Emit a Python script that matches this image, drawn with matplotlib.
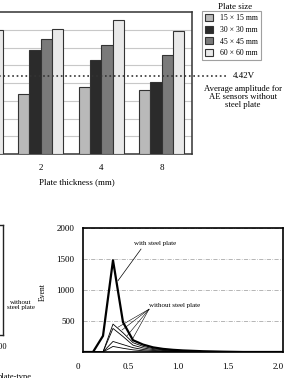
import numpy as np
import matplotlib
matplotlib.use("Agg")
import matplotlib.pyplot as plt
from matplotlib.transforms import ScaledTranslation

plt.rcParams['font.family'] = ['Liberation Serif', 'DejaVu Serif']

# top panel: amplitude vs plate thickness (first group is cut off on the left)
thickness = ["", "2", "4", "8"]
plate_sizes = ["15 × 15 mm", "30 × 30 mm", "45 × 45 mm", "60 × 60 mm"]
amp_15 = [3.0, 3.39, 3.77, 3.62]
amp_30 = [5.0, 5.84, 5.27, 4.08]
amp_45 = [6.0, 6.48, 6.16, 5.59]
amp_60 = [6.98, 7.04, 7.57, 6.95]
no_plate_avg = 4.42
bar_colors = ["#b9b9b9", "#2b2b2b", "#7a7a7a", "#e9e9e9"]

# bottom panel: event count vs AE amplitude
amp_v = [0, 0.1, 0.2, 0.3, 0.4, 0.5, 0.6, 0.7, 0.8, 0.9, 1.0, 1.2, 1.4, 1.6, 1.8, 2.0]
with_plate = [0, 0, 260, 1480, 480, 190, 120, 75, 50, 35, 25, 12, 5, 0, 0, 0]
without_1 = [0, 0, 0, 450, 310, 150, 90, 55, 35, 22, 15, 6, 2, 0, 0, 0]
without_2 = [0, 0, 0, 380, 250, 110, 65, 40, 25, 15, 10, 4, 0, 0, 0, 0]
without_3 = [0, 0, 0, 170, 120, 70, 40, 25, 15, 10, 6, 2, 0, 0, 0, 0]
without_4 = [0, 0, 0, 90, 60, 35, 20, 12, 8, 5, 3, 0, 0, 0, 0, 0]

W, H = 288, 378
fig = plt.figure(figsize=(W / 100, H / 100), dpi=100)


def box(l, t, r, b):
    # pixel box -> figure fraction rect
    return [l / W, 1 - b / H, (r - l) / W, (b - t) / H]


# ---------------- top bar chart ----------------
ax = fig.add_axes(box(-50, 12, 192, 154))
x = np.arange(len(thickness))
w = 0.1875
series = [amp_15, amp_30, amp_45, amp_60]
handles = []
for i, vals in enumerate(series):
    b = ax.bar(x + (i - 1.5) * w, vals, w, color=bar_colors[i],
               edgecolor="#333333", linewidth=0.8, zorder=3)
    handles.append(b)
ax.set_xlim(-0.5, 3.5)
ax.set_ylim(0, 8)
ax.set_yticks(np.arange(1, 8))
ax.yaxis.grid(True, color="#c8c8c8", linewidth=0.8, zorder=0)
ax.tick_params(axis="y", length=0, labelleft=False)
ax.set_xticks(x)
ax.set_xticklabels(thickness, fontsize=6.5)
ax.tick_params(axis="x", length=0, pad=7)
ax.set_xlabel("Plate thickness (mm)", fontsize=6.5)
ax.xaxis.set_label_coords((77 + 50) / 242, -0.17)
for s in ax.spines.values():
    s.set_color("#333333")
    s.set_linewidth(1.1)

ax.plot([0, 1.14], [no_plate_avg, no_plate_avg], transform=ax.get_yaxis_transform(),
        color="#333333", linestyle=":", linewidth=1.2, clip_on=False, zorder=4)
fig.text(233 / W, 1 - 76 / H, "4.42V", fontsize=6.5, va="center", ha="left")
fig.text(243 / W, 1 - 97 / H, "Average amplitude for\nAE sensors without\nsteel plate",
         fontsize=6.2, ha="center", va="center", linespacing=0.95)

fig.text(235 / W, 1 - 7 / H, "Plate size", fontsize=6.5, ha="center", va="center")
leg = ax.legend(handles, plate_sizes, loc="upper left",
                bbox_to_anchor=(202 / W, 1 - 11 / H), bbox_transform=fig.transFigure,
                fontsize=5.6, frameon=True, fancybox=False, handlelength=1.0,
                handleheight=1.0, labelspacing=0.45, borderpad=0.4, handletextpad=0.9,
                borderaxespad=0)
leg.get_frame().set_edgecolor("#888888")
leg.get_frame().set_linewidth(0.8)

# ---------------- cut-off bottom-left panel ----------------
axl = fig.add_axes(box(-100, 225, 3, 335))
axl.set_xticks([])
axl.set_yticks([])
for s in axl.spines.values():
    s.set_color("#222222")
    s.set_linewidth(1.0)
fig.text(21 / W, 1 - 305 / H, "without\nsteel plate", fontsize=5, ha="center",
         va="center", linespacing=1.0)
fig.text(7 / W, 1 - 347 / H, "200", fontsize=6, ha="right", va="center")
fig.text(-2 / W, 1 - 377 / H, "plate-type", fontsize=6, ha="left", va="center")

# ---------------- bottom-right event chart ----------------
ax2 = fig.add_axes(box(83, 228, 283, 352))
ax2.plot(amp_v, with_plate, color="black", linewidth=1.6, zorder=3)
for ys in [without_1, without_2, without_3, without_4]:
    ax2.plot(amp_v, ys, color="black", linewidth=0.6, zorder=3)
ax2.set_xlim(0, 2.0)
ax2.set_ylim(0, 2000)
ax2.set_yticks([500, 1000, 1500, 2000])
ax2.set_yticklabels(["500", "1000", "1500", "2000"], fontsize=6.5)
ax2.set_xticks([0, 0.5, 1.0, 1.5, 2.0])
ax2.set_xticklabels(["0", "0.5", "1.0", "1.5", "2.0"], fontsize=6.5)
ax2.tick_params(length=0, pad=6)
ax2.tick_params(axis="x", pad=8)
shift = ScaledTranslation(-5 / 100, 0, fig.dpi_scale_trans)
for lab in ax2.get_xticklabels():
    lab.set_transform(lab.get_transform() + shift)
ax2.yaxis.grid(True, color="#999999", linewidth=0.5, linestyle=(0, (6, 2, 1, 2)))
ax2.set_axisbelow(True)
for s in ax2.spines.values():
    s.set_color("black")
    s.set_linewidth(1.2)
ax2.set_ylabel("Event", fontsize=5.5)
ax2.yaxis.set_label_coords(-0.18, 0.48)
ax2.set_xlabel("AE amplitude (V)", fontsize=6.5)
ax2.xaxis.set_label_coords(0.5, -0.22)

# leader lines
ax2.text(0.72, 1750, "with steel plate", fontsize=5, ha="center", va="center")
ax2.plot([0.58, 0.35], [1660, 1150], color="black", linewidth=0.5)
ax2.text(0.92, 750, "without steel plate", fontsize=5, ha="center", va="center")
for tx, ty in [(0.35, 400), (0.39, 355), (0.44, 260), (0.49, 195)]:
    ax2.plot([0.66, tx], [690, ty], color="black", linewidth=0.4)

fig.savefig("out.png", dpi=100)
